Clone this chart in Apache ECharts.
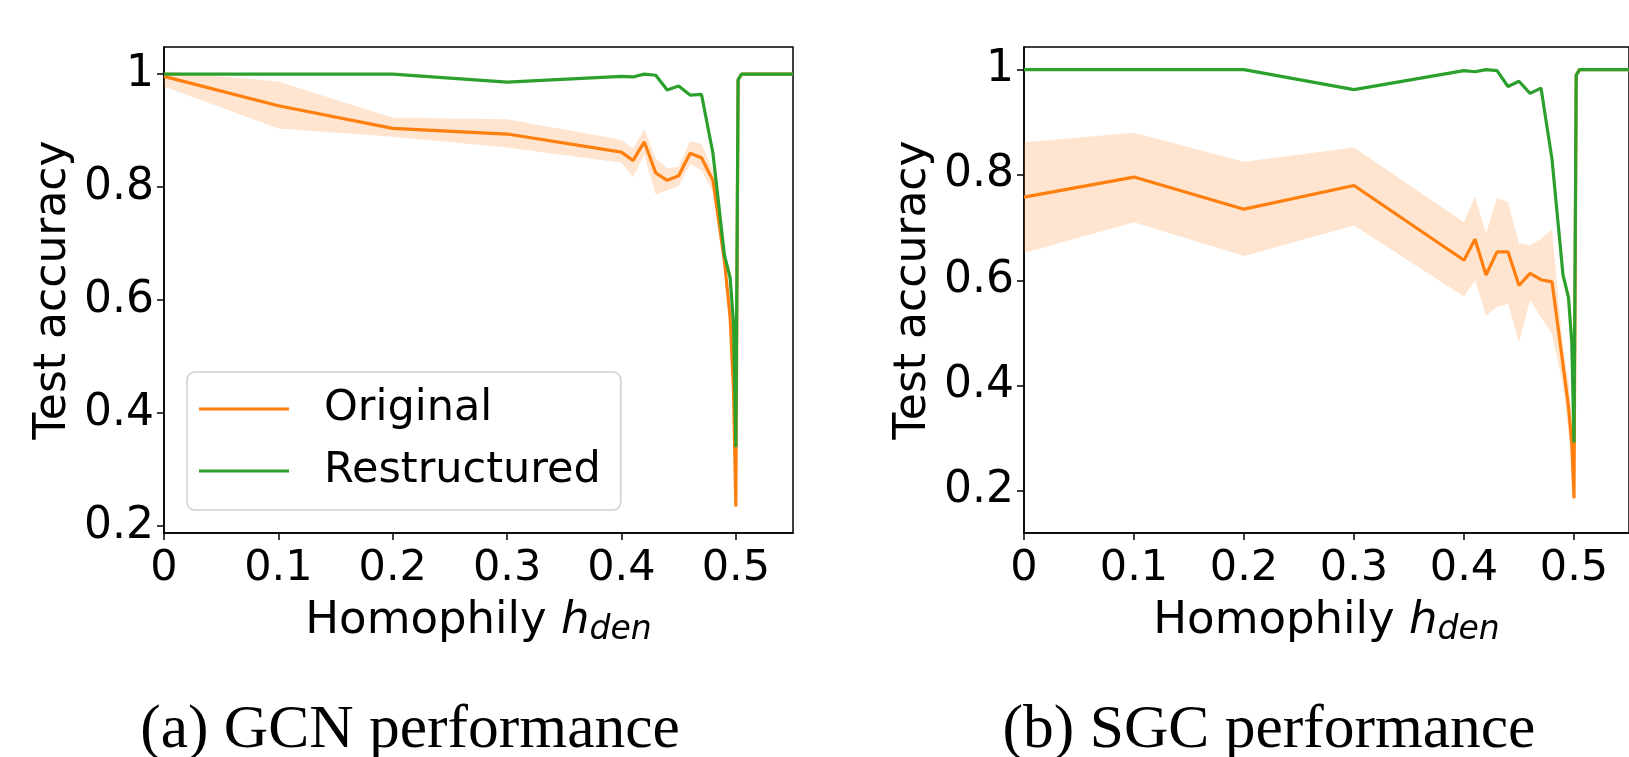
<!DOCTYPE html>
<html lang="en">
<head>
    <meta charset="UTF-8">
    <title>GCN / SGC performance</title>
    <script src="https://cdn.jsdelivr.net/npm/echarts@6/dist/echarts.min.js"></script>
    <style>
        body { margin: 0; background: #fff; }
    </style>
</head>
<body>
<div id="main" style="width:1629px; height:757px;"></div>
<script>
    // homophily values (x)
    var hden = [0, 0.1, 0.2, 0.3, 0.4, 0.41, 0.42, 0.43, 0.44, 0.45, 0.46, 0.47, 0.48, 0.49, 0.495, 0.498, 0.5, 0.502, 0.505, 0.51, 0.55];

    // (a) GCN
    var gcnOrig   = [0.996, 0.944, 0.904, 0.894, 0.862, 0.847, 0.880, 0.825, 0.812, 0.820, 0.860, 0.852, 0.812, 0.67, 0.57, 0.44, 0.235, 0.99, 1.0, 1.0, 1.0];
    var gcnOrigLo = [0.978, 0.904, 0.889, 0.870, 0.843, 0.818, 0.857, 0.787, 0.794, 0.802, 0.841, 0.830, 0.791, 0.65, 0.55, 0.42, 0.225, 0.985, 1.0, 1.0, 1.0];
    var gcnOrigHi = [1.005, 0.987, 0.923, 0.920, 0.884, 0.868, 0.902, 0.851, 0.833, 0.836, 0.881, 0.877, 0.830, 0.69, 0.59, 0.46, 0.245, 0.995, 1.0, 1.0, 1.0];
    var gcnRestr  = [1.0, 1.0, 1.0, 0.986, 0.996, 0.995, 1.0, 0.998, 0.972, 0.979, 0.963, 0.964, 0.86, 0.68, 0.64, 0.56, 0.34, 0.99, 1.0, 1.0, 1.0];

    // (b) SGC
    var sgcOrig   = [0.758, 0.796, 0.735, 0.780, 0.638, 0.678, 0.610, 0.654, 0.654, 0.590, 0.613, 0.601, 0.597, 0.44, 0.36, 0.29, 0.186, 0.99, 1.0, 1.0, 1.0];
    var sgcOrigLo = [0.652, 0.710, 0.646, 0.704, 0.569, 0.600, 0.533, 0.549, 0.555, 0.482, 0.562, 0.530, 0.498, 0.40, 0.31, 0.25, 0.157, 0.985, 1.0, 1.0, 1.0];
    var sgcOrigHi = [0.862, 0.880, 0.825, 0.852, 0.710, 0.759, 0.689, 0.756, 0.748, 0.670, 0.667, 0.678, 0.697, 0.47, 0.41, 0.33, 0.21, 0.995, 1.0, 1.0, 1.0];
    var sgcRestr  = [1.0, 1.0, 1.0, 0.962, 0.998, 0.996, 1.0, 0.998, 0.968, 0.978, 0.955, 0.965, 0.83, 0.61, 0.567, 0.482, 0.292, 0.989, 1.0, 1.0, 1.0];

    var xTicks = [0, 0.1, 0.2, 0.3, 0.4, 0.5];
    var yTicks = [0.2, 0.4, 0.6, 0.8, 1];

    var orange = '#ff7f0e';
    var green = '#2ca02c';
    var font = 'DejaVu Sans';

    function pairs(ys) {
        return hden.map(function (x, i) { return [x, ys[i]]; });
    }

    // shaded std band, drawn as one polygon through the axes
    function band(idx, lo, hi) {
        return {
            type: 'custom',
            name: 'band' + idx,
            xAxisIndex: idx,
            yAxisIndex: idx,
            silent: true,
            z: 1,
            data: [[0, 0.5]],
            renderItem: function (params, api) {
                var pts = [];
                for (var i = 0; i < hden.length; i++) pts.push(api.coord([hden[i], hi[i]]));
                for (var j = hden.length - 1; j >= 0; j--) pts.push(api.coord([hden[j], lo[j]]));
                return {
                    type: 'polygon',
                    shape: { points: pts },
                    style: { fill: 'rgba(255,127,14,0.2)', stroke: null }
                };
            }
        };
    }

    function line(idx, name, ys, color, z) {
        return {
            type: 'line',
            name: name,
            xAxisIndex: idx,
            yAxisIndex: idx,
            data: pairs(ys),
            showSymbol: false,
            color: color,
            lineStyle: { width: 3.2, color: color },
            z: z
        };
    }

    function xAx(idx) {
        return {
            type: 'value',
            gridIndex: idx,
            min: 0,
            max: 0.55,
            name: 'Homophily {i|h}{s|den}',
            nameLocation: 'middle',
            nameGap: 60,
            nameTextStyle: {
                fontFamily: font, fontSize: 45, color: '#000', lineHeight: 52,
                rich: {
                    i: { fontFamily: font, fontSize: 45, fontStyle: 'italic', color: '#000', lineHeight: 52 },
                    s: { fontFamily: font, fontSize: 33, fontStyle: 'italic', color: '#000', lineHeight: 33, verticalAlign: 'bottom' }
                }
            },
            axisLine: { lineStyle: { color: '#000', width: 1.5 } },
            axisTick: { customValues: xTicks, length: 7, lineStyle: { color: '#000', width: 1.5 } },
            axisLabel: { customValues: xTicks, fontFamily: font, fontSize: 43, color: '#000', margin: 14 },
            splitLine: { show: false }
        };
    }

    function yAx(idx, lo, hi) {
        return {
            type: 'value',
            gridIndex: idx,
            min: lo,
            max: hi,
            name: 'Test accuracy',
            nameLocation: 'middle',
            nameGap: 88,
            nameTextStyle: { fontFamily: font, fontSize: 44, color: '#000' },
            axisLine: { show: true, lineStyle: { color: '#000', width: 1.5 } },
            axisTick: { show: true, customValues: yTicks, length: 7, lineStyle: { color: '#000', width: 1.5 } },
            axisLabel: { customValues: yTicks, fontFamily: font, fontSize: 44, color: '#000', margin: 10 },
            splitLine: { show: false }
        };
    }

    var myChart = echarts.init(document.getElementById('main'));
    var option = {
        animation: false,
        backgroundColor: '#fff',
        grid: [
            { left: 164, top: 47, width: 629, height: 486, show: true, borderColor: '#000', borderWidth: 1.5 },
            { left: 1024, top: 47, width: 628, height: 486, show: true, borderColor: '#000', borderWidth: 1.5 }
        ],
        xAxis: [xAx(0), xAx(1)],
        yAxis: [yAx(0, 0.188, 1.048), yAx(1, 0.12, 1.043)],
        legend: {
            data: ['Original', 'Restructured'],
            orient: 'vertical',
            left: 187,
            top: 372,
            icon: 'rect',
            itemWidth: 90,
            itemHeight: 3,
            itemGap: 12,
            padding: [12, 20, 14, 12],
            backgroundColor: '#fff',
            borderColor: '#cfcfcf',
            borderWidth: 1.5,
            borderRadius: 8,
            textStyle: { fontFamily: font, fontSize: 43, color: '#000', lineHeight: 50, padding: [0, 0, 0, 30] }
        },
        graphic: [
            { type: 'text', x: 410, y: 731, style: { text: '(a) GCN performance', font: '61.5px "Liberation Serif"', fill: '#000', textAlign: 'center', textVerticalAlign: 'middle' } },
            { type: 'text', x: 1269, y: 731, style: { text: '(b) SGC performance', font: '61.5px "Liberation Serif"', fill: '#000', textAlign: 'center', textVerticalAlign: 'middle' } }
        ],
        series: [
            band(0, gcnOrigLo, gcnOrigHi),
            line(0, 'Original', gcnOrig, orange, 3),
            line(0, 'Restructured', gcnRestr, green, 4),
            band(1, sgcOrigLo, sgcOrigHi),
            line(1, 'Original', sgcOrig, orange, 3),
            line(1, 'Restructured', sgcRestr, green, 4)
        ]
    };
    myChart.setOption(option);
</script>
</body>
</html>
